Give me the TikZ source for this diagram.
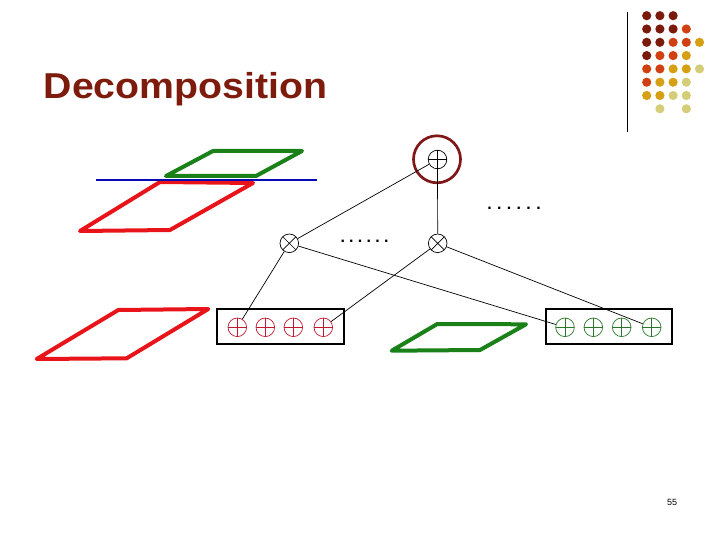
\documentclass[tikz,border=0pt]{standalone}
\usepackage{fontspec}
\setmainfont{Liberation Sans}
\definecolor{titlered}{RGB}{125,28,12}
\definecolor{dk}{RGB}{122,26,10}
\definecolor{orr}{RGB}{208,64,18}
\definecolor{gld}{RGB}{214,160,20}
\definecolor{pale}{RGB}{212,206,120}
\definecolor{pred}{RGB}{232,20,26}
\definecolor{pgreen}{RGB}{26,128,24}
\definecolor{pblue}{RGB}{10,10,180}
\definecolor{crim}{RGB}{192,24,48}
\definecolor{cgreen}{RGB}{40,120,40}
\definecolor{ring}{RGB}{128,24,24}
\newcommand{\dotrowtext}[1]{.\hspace{#1}.\hspace{#1}.\hspace{#1}.\hspace{#1}.\hspace{#1}.}
\tikzset{
  oplus/.style={circle, draw=#1, minimum size=18.6pt, inner sep=0pt, line width=0.7pt,
    path picture={\draw[#1, line width=0.7pt]
      (path picture bounding box.north) -- (path picture bounding box.south)
      (path picture bounding box.west) -- (path picture bounding box.east);}},
  oplus/.default=black,
  otimes/.style={circle, draw, minimum size=18.6pt, inner sep=0pt, line width=0.7pt,
    path picture={\draw[line width=0.7pt]
      (path picture bounding box.north west) -- (path picture bounding box.south east)
      (path picture bounding box.south west) -- (path picture bounding box.north east);}},
  edge/.style={line width=0.7pt},
  boxline/.style={line width=2pt},
  para/.style={line width=4pt, line join=round, line cap=round},
  gdot/.style={circle, inner sep=0pt, minimum size=9.2pt},
  dotsnode/.style={inner sep=0pt, font=\fontsize{16}{16}\selectfont\bfseries}
}
\begin{document}
\begin{tikzpicture}[x=1pt, y=-1pt]
\useasboundingbox (0,0) rectangle (720,540);
% title
\node[anchor=base west, inner sep=0pt, text=titlered] (title) at (43.5,98.3)
  {\scalebox{1.09}[1]{\fontsize{36}{36}\selectfont\bfseries Decomposition}};
% vertical rule
\coordinate (vtop) at (627.3,12);
\coordinate (vbot) at (627.3,132.5);
\draw[line width=1pt] (vtop) -- (vbot);
% dot grid
\foreach \r/\c/\col in {1/1/dk,1/2/dk,1/3/dk,
  2/1/dk,2/2/dk,2/3/dk,2/4/orr,
  3/1/dk,3/2/dk,3/3/orr,3/4/orr,3/5/gld,
  4/1/dk,4/2/orr,4/3/orr,4/4/gld,
  5/1/orr,5/2/orr,5/3/gld,5/4/gld,5/5/pale,
  6/1/orr,6/2/gld,6/3/gld,6/4/pale,
  7/1/gld,7/2/gld,7/3/pale,7/4/pale,
  8/2/pale,8/4/pale}
  \node[gdot, fill=\col] (g\r\c) at ({646.7+13.2*(\c-1)},{15.7+13.3*(\r-1)}) {};
% parallelograms
\draw[para, pgreen] (166,176) -- (213,151) -- (302,151) -- (256,176) -- cycle;
\draw[para, pred] (80,231) -- (160,182) -- (253,183) -- (170,230) -- cycle;
\coordinate (bl) at (96,180.3);
\coordinate (br) at (317,180.3);
\draw[line width=2pt, pblue] (bl) -- (br);
\draw[para, pred] (36.7,359) -- (118.3,310) -- (208.3,309) -- (126.7,358.3) -- cycle;
\draw[para, pgreen] (391.7,350.7) -- (437.3,324) -- (526,324.3) -- (480,350) -- cycle;
% tree
\node[oplus] (T) at (437.5,159.5) {};
\node[circle, draw=ring, line width=2.7pt, minimum size=47pt, inner sep=0pt] (ringc) at (437,159.3) {};
\node[otimes] (X1) at (289.3,243.3) {};
\node[otimes] (X2) at (437.7,243.3) {};
\node[boxline, draw, minimum width=126.7pt, minimum height=35pt, inner sep=0pt] (LB) at (280.65,326.5) {};
\node[boxline, draw, minimum width=126pt, minimum height=35pt, inner sep=0pt] (RB) at (609,326.5) {};
\foreach \i/\x in {1/237.3,2/265.3,3/293.3,4/323.3}
  \node[oplus=crim] (L\i) at (\x,327.3) {};
\foreach \i/\x in {1/565,2/593.3,3/621.7,4/651.7}
  \node[oplus=cgreen] (R\i) at (\x,327.3) {};
\draw[edge] (T) -- (X1);
\draw[edge] (T) -- (X2);
\draw[edge] (X1) -- (L1);
\draw[edge] (X1) -- (R1);
\draw[edge] (X2) -- (L4);
\draw[edge] (X2) -- (R4);
% dots
\node[dotsnode] (d1) at (364.5,241) {\dotrowtext{4.25pt}};
\node[dotsnode] (d2) at (514,208.3) {\dotrowtext{5.35pt}};
% page number
\node[inner sep=0pt, font=\fontsize{9}{9}\selectfont] (pn) at (672,502) {55};
\end{tikzpicture}
\end{document}
